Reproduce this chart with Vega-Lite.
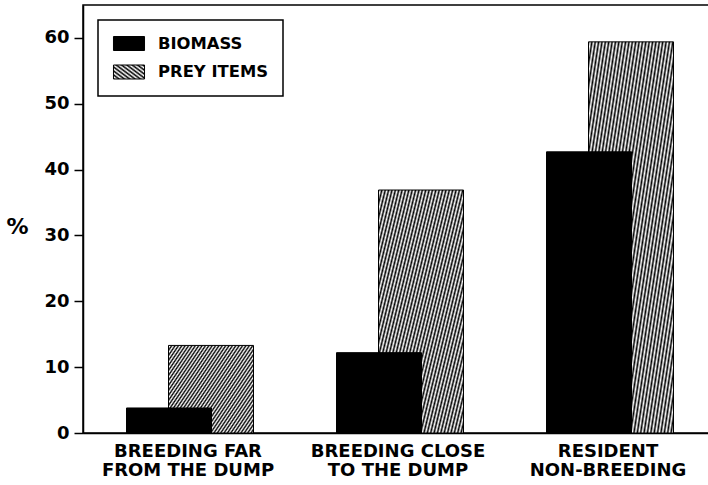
{
  "$schema": "https://vega.github.io/schema/vega-lite/v6.json",
  "width": 630,
  "height": 428,
  "autosize": "none",
  "padding": {"left": 83, "top": 5, "right": 0, "bottom": 52},
  "background": "white",
  "config": {
    "view": {"stroke": "black", "strokeWidth": 1.5},
    "font": "DejaVu Sans",
    "axis": {"labelFont": "DejaVu Sans", "labelFontWeight": "bold", "labelColor": "black", "titleFont": "DejaVu Sans", "titleColor": "black", "grid": false, "domainColor": "black", "domainWidth": 1.5, "tickColor": "black", "tickWidth": 1.5}
  },
  "data": {
    "values": [
      {"group": "BREEDING FAR|FROM THE DUMP", "series": "BIOMASS", "pct": 3.8},
      {"group": "BREEDING FAR|FROM THE DUMP", "series": "PREY ITEMS", "pct": 13.3},
      {"group": "BREEDING CLOSE|TO THE DUMP", "series": "BIOMASS", "pct": 12.2},
      {"group": "BREEDING CLOSE|TO THE DUMP", "series": "PREY ITEMS", "pct": 36.9},
      {"group": "RESIDENT|NON-BREEDING", "series": "BIOMASS", "pct": 42.7},
      {"group": "RESIDENT|NON-BREEDING", "series": "PREY ITEMS", "pct": 59.4}
    ]
  },
  "encoding": {
    "x": {
      "field": "group", "type": "nominal", "sort": null,
      "scale": {"paddingInner": 0, "paddingOuter": 0},
      "axis": {"title": null, "ticks": false, "labelAngle": 0, "labelFontSize": 18, "labelLineHeight": 19, "labelPadding": 9, "labelExpr": "split(datum.label, '|')", "labelBaseline": "top"}
    },
    "y": {
      "field": "pct", "type": "quantitative",
      "scale": {"domain": [0, 65], "nice": false},
      "axis": {"values": [0, 10, 20, 30, 40, 50, 60], "tickSize": 9, "labelFontSize": 18, "labelPadding": 5, "title": "%", "titleAngle": 0, "titleFontSize": 22, "titleFontWeight": "bold", "titleX": -66, "titleY": 221, "titleAlign": "center", "titleBaseline": "middle"}
    }
  },
  "layer": [
    {
      "transform": [{"filter": "datum.series === 'PREY ITEMS'"}],
      "mark": {"type": "bar", "width": 85, "xOffset": 23, "stroke": "black", "strokeWidth": 1,
        "fill": {"gradient": "linear", "x1": 0, "y1": 0, "x2": 1.15, "y2": 0.8, "stops": [
          {"offset": 0, "color": "#000"}, {"offset": 0.0116, "color": "#fff"}, {"offset": 0.0233, "color": "#000"}, {"offset": 0.0349, "color": "#fff"},
          {"offset": 0.0465, "color": "#000"}, {"offset": 0.0581, "color": "#fff"}, {"offset": 0.0698, "color": "#000"}, {"offset": 0.0814, "color": "#fff"},
          {"offset": 0.0930, "color": "#000"}, {"offset": 0.1047, "color": "#fff"}, {"offset": 0.1163, "color": "#000"}, {"offset": 0.1279, "color": "#fff"},
          {"offset": 0.1395, "color": "#000"}, {"offset": 0.1512, "color": "#fff"}, {"offset": 0.1628, "color": "#000"}, {"offset": 0.1744, "color": "#fff"},
          {"offset": 0.1860, "color": "#000"}, {"offset": 0.1977, "color": "#fff"}, {"offset": 0.2093, "color": "#000"}, {"offset": 0.2209, "color": "#fff"},
          {"offset": 0.2326, "color": "#000"}, {"offset": 0.2442, "color": "#fff"}, {"offset": 0.2558, "color": "#000"}, {"offset": 0.2674, "color": "#fff"},
          {"offset": 0.2791, "color": "#000"}, {"offset": 0.2907, "color": "#fff"}, {"offset": 0.3023, "color": "#000"}, {"offset": 0.3140, "color": "#fff"},
          {"offset": 0.3256, "color": "#000"}, {"offset": 0.3372, "color": "#fff"}, {"offset": 0.3488, "color": "#000"}, {"offset": 0.3605, "color": "#fff"},
          {"offset": 0.3721, "color": "#000"}, {"offset": 0.3837, "color": "#fff"}, {"offset": 0.3953, "color": "#000"}, {"offset": 0.4070, "color": "#fff"},
          {"offset": 0.4186, "color": "#000"}, {"offset": 0.4302, "color": "#fff"}, {"offset": 0.4419, "color": "#000"}, {"offset": 0.4535, "color": "#fff"},
          {"offset": 0.4651, "color": "#000"}, {"offset": 0.4767, "color": "#fff"}, {"offset": 0.4884, "color": "#000"}, {"offset": 0.5, "color": "#fff"},
          {"offset": 0.5116, "color": "#000"}, {"offset": 0.5233, "color": "#fff"}, {"offset": 0.5349, "color": "#000"}, {"offset": 0.5465, "color": "#fff"},
          {"offset": 0.5581, "color": "#000"}, {"offset": 0.5698, "color": "#fff"}, {"offset": 0.5814, "color": "#000"}, {"offset": 0.5930, "color": "#fff"},
          {"offset": 0.6047, "color": "#000"}, {"offset": 0.6163, "color": "#fff"}, {"offset": 0.6279, "color": "#000"}, {"offset": 0.6395, "color": "#fff"},
          {"offset": 0.6512, "color": "#000"}, {"offset": 0.6628, "color": "#fff"}, {"offset": 0.6744, "color": "#000"}, {"offset": 0.6860, "color": "#fff"},
          {"offset": 0.6977, "color": "#000"}, {"offset": 0.7093, "color": "#fff"}, {"offset": 0.7209, "color": "#000"}, {"offset": 0.7326, "color": "#fff"},
          {"offset": 0.7442, "color": "#000"}, {"offset": 0.7558, "color": "#fff"}, {"offset": 0.7674, "color": "#000"}, {"offset": 0.7791, "color": "#fff"},
          {"offset": 0.7907, "color": "#000"}, {"offset": 0.8023, "color": "#fff"}, {"offset": 0.8140, "color": "#000"}, {"offset": 0.8256, "color": "#fff"},
          {"offset": 0.8372, "color": "#000"}, {"offset": 0.8488, "color": "#fff"}, {"offset": 0.8605, "color": "#000"}, {"offset": 0.8721, "color": "#fff"},
          {"offset": 0.8837, "color": "#000"}, {"offset": 0.8953, "color": "#fff"}, {"offset": 0.9070, "color": "#000"}, {"offset": 0.9186, "color": "#fff"},
          {"offset": 0.9302, "color": "#000"}, {"offset": 0.9419, "color": "#fff"}, {"offset": 0.9535, "color": "#000"}, {"offset": 0.9651, "color": "#fff"},
          {"offset": 0.9767, "color": "#000"}, {"offset": 0.9884, "color": "#fff"}, {"offset": 1, "color": "#000"}
        ]}
      }
    },
    {
      "transform": [{"filter": "datum.series === 'BIOMASS'"}],
      "mark": {"type": "bar", "width": 85, "xOffset": -19, "stroke": "black", "strokeWidth": 1},
      "encoding": {
        "fill": {
          "field": "series", "type": "nominal",
          "scale": {"domain": ["BIOMASS", "PREY ITEMS"], "range": ["black", "url(#gradient_0) #8a8a8a"]},
          "legend": {
            "title": null, "orient": "none", "legendX": 15, "legendY": 15,
            "padding": 15, "strokeColor": "black", "fillColor": "white",
            "symbolType": "M-1.94,-0.875H1.94V0.875H-1.94Z", "symbolSize": 256, "symbolStrokeColor": "black", "symbolStrokeWidth": 1, "symbolOffset": 7.5,
            "rowPadding": 9.5, "labelOffset": 20.5,
            "labelFont": "DejaVu Sans", "labelFontWeight": "bold", "labelFontSize": 16.4, "labelColor": "black",
            "encode": {
              "legend": {"update": {"strokeWidth": {"value": 1.5}}}
            }
          }
        }
      }
    }
  ]
}
